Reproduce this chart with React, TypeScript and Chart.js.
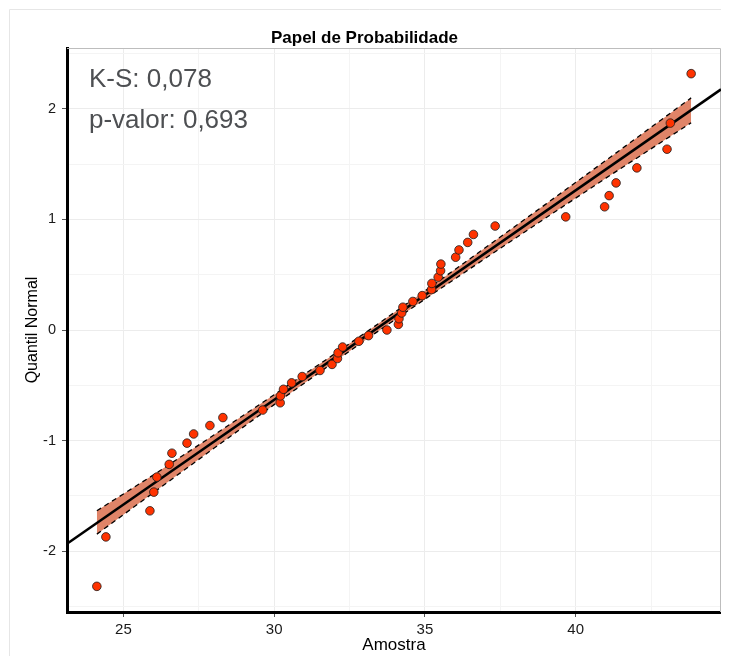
import React, { useEffect, useRef } from 'react';
import Chart from 'chart.js/auto';

// Sample values (Amostra), sorted
const sampleValues = [
  24.12, 24.42, 25.88, 26.01, 26.11, 26.52, 26.61, 27.11, 27.33, 27.87,
  28.3, 29.62, 30.2, 30.21, 30.31, 30.58, 30.93, 31.52, 31.92, 32.1,
  32.12, 32.27, 32.81, 33.13, 33.74, 34.12, 34.14, 34.23, 34.27, 34.6,
  34.91, 35.22, 35.23, 35.44, 35.52, 35.53, 36.02, 36.13, 36.42, 36.61,
  37.33, 39.67, 40.96, 41.11, 41.34, 42.03, 43.03, 43.14, 43.83,
];
// Theoretical normal quantiles (Quantil Normal)
const normalQuantiles = [
  -2.318, -1.871, -1.635, -1.466, -1.33, -1.215, -1.114, -1.023, -0.94, -0.864,
  -0.792, -0.724, -0.658, -0.596, -0.536, -0.478, -0.421, -0.366, -0.311, -0.258,
  -0.206, -0.154, -0.102, -0.051, 0, 0.051, 0.102, 0.154, 0.206, 0.258,
  0.311, 0.366, 0.421, 0.478, 0.536, 0.596, 0.658, 0.724, 0.792, 0.864,
  0.94, 1.023, 1.114, 1.215, 1.33, 1.466, 1.635, 1.871, 2.318,
];
// Reference line endpoints
const lineX = [23.13, 44.82];
const lineY = [-1.932, 2.176];
// Confidence band
const bandX = [24.12, 26, 28, 30, 32, 33.33, 35, 37, 39, 41, 43.83];
const bandLower = [-1.846, -1.47, -1.07, -0.675, -0.287, -0.033, 0.279, 0.647, 1.012, 1.373, 1.874];
const bandUpper = [-1.635, -1.31, -0.95, -0.585, -0.217, 0.033, 0.353, 0.743, 1.136, 1.533, 2.099];

const titleText = 'Papel de Probabilidade';
const xTitle = 'Amostra';
const yTitle = 'Quantil Normal';
const annotations = ['K-S: 0,078', 'p-valor: 0,693'];

const FONT = '"Liberation Sans", Arial, Helvetica, sans-serif';

const isMult = (v: number, m: number) => Math.abs(v / m - Math.round(v / m)) < 1e-6;

const decorPlugin = {
  id: 'decor',
  beforeDraw(chart: any) {
    const { ctx, width, height } = chart;
    ctx.save();
    ctx.strokeStyle = '#e6e6e6';
    ctx.lineWidth = 1;
    ctx.beginPath();
    ctx.moveTo(1.5, height);
    ctx.lineTo(1.5, 1.5);
    ctx.lineTo(width, 1.5);
    ctx.stroke();
    ctx.restore();
  },
  beforeDatasetsDraw(chart: any) {
    const { ctx, chartArea: a } = chart;
    ctx.save();
    ctx.strokeStyle = '#bdbdbd';
    ctx.lineWidth = 1;
    ctx.beginPath();
    ctx.moveTo(a.left, a.top + 0.5);
    ctx.lineTo(a.right - 0.5, a.top + 0.5);
    ctx.lineTo(a.right - 0.5, a.bottom);
    ctx.stroke();
    ctx.restore();
  },
  afterDraw(chart: any) {
    const { ctx, chartArea: a } = chart;
    ctx.save();
    ctx.font = `26px ${FONT}`;
    ctx.fillStyle = '#4d4f52';
    ctx.textBaseline = 'alphabetic';
    ctx.textAlign = 'left';
    ctx.fillText(annotations[0], a.left + 22, a.top + 38.5);
    ctx.fillText(annotations[1], a.left + 22, a.top + 80);
    ctx.restore();
  },
};

export default function App() {
  const ref = useRef<HTMLCanvasElement>(null);
  useEffect(() => {
    if (!ref.current) return;
    const points = sampleValues.map((x, i) => ({ x, y: normalQuantiles[i] }));
    const line = lineX.map((x, i) => ({ x, y: lineY[i] }));
    const lower = bandX.map((x, i) => ({ x, y: bandLower[i] }));
    const upper = bandX.map((x, i) => ({ x, y: bandUpper[i] }));
    const gridColor = (ctx: any) => (isMult(ctx.tick.value, 1) ? '#ececec' : '#f4f4f4');
    const xGridColor = (ctx: any) => (isMult(ctx.tick.value, 5) ? '#ececec' : '#f4f4f4');
    const chart = new Chart(ref.current, {
      type: 'scatter',
      data: {
        datasets: [
          {
            type: 'scatter',
            data: points,
            pointRadius: 4.3,
            pointBackgroundColor: '#ff3300',
            pointBorderColor: '#1e1e1e',
            pointBorderWidth: 0.8,
            order: 0,
          } as any,
          {
            type: 'line',
            data: line,
            borderColor: '#000',
            borderWidth: 2.5,
            pointRadius: 0,
            fill: false,
            order: 1,
          },
          {
            type: 'line',
            data: lower,
            borderColor: '#000',
            borderWidth: 1.3,
            borderDash: [5, 4],
            pointRadius: 0,
            fill: false,
            order: 3,
          },
          {
            type: 'line',
            data: upper,
            borderColor: '#000',
            borderWidth: 1.3,
            borderDash: [5, 4],
            pointRadius: 0,
            backgroundColor: 'rgb(224,132,104)',
            fill: '-1',
            order: 2,
          },
        ],
      },
      options: {
        animation: false,
        responsive: true,
        maintainAspectRatio: false,
        layout: { padding: { left: 0, right: 8, top: 0, bottom: 0 } },
        plugins: {
          legend: { display: false },
          tooltip: { enabled: false },
          filler: { drawTime: 'beforeDatasetsDraw' },
          title: {
            display: true,
            text: titleText,
            color: '#000',
            font: { family: FONT, size: 17, weight: 'bold', lineHeight: 1.0 },
            padding: { top: 22, bottom: 1 },
          },
        },
        scales: {
          x: {
            type: 'linear',
            min: 23.13,
            max: 44.82,
            afterFit: (s: any) => {
              s.height = 44;
            },
            ticks: {
              stepSize: 2.5,
              includeBounds: false,
              autoSkip: false,
              maxRotation: 0,
              padding: 4,
              color: '#1a1a1a',
              font: { family: FONT, size: 15 },
              callback: (v: any) => (isMult(Number(v), 5) ? String(v) : ''),
            },
            grid: {
              color: xGridColor,
              lineWidth: 1,
              drawTicks: true,
              tickLength: 5,
              tickColor: (ctx: any) => (isMult(ctx.tick.value, 5) ? '#555' : 'rgba(0,0,0,0)'),
            },
            border: { display: true, color: '#000', width: 3 },
            title: {
              display: true,
              text: xTitle,
              color: '#000',
              font: { family: FONT, size: 17, lineHeight: 1.1 },
              padding: { top: 0, bottom: 1 },
            },
          },
          y: {
            type: 'linear',
            min: -2.55,
            max: 2.55,
            afterFit: (s: any) => {
              s.width = 59;
            },
            ticks: {
              stepSize: 0.5,
              includeBounds: false,
              autoSkip: false,
              padding: 6,
              color: '#1a1a1a',
              font: { family: FONT, size: 14.5 },
              callback: (v: any) => (isMult(Number(v), 1) ? String(v) : ''),
            },
            grid: {
              color: gridColor,
              lineWidth: 1,
              drawTicks: true,
              tickLength: 5,
              tickColor: (ctx: any) => (isMult(ctx.tick.value, 1) ? '#555' : 'rgba(0,0,0,0)'),
            },
            border: { display: true, color: '#000', width: 3 },
            title: {
              display: true,
              text: yTitle,
              color: '#000',
              font: { family: FONT, size: 16, lineHeight: 1.2 },
              padding: { top: 15, bottom: 0 },
            },
          },
        },
      },
      plugins: [decorPlugin],
    } as any);
    return () => chart.destroy();
  }, []);
  return (
    <div style={{ width: 721, height: 648, position: 'relative' }}>
      <canvas ref={ref} />
    </div>
  );
}
